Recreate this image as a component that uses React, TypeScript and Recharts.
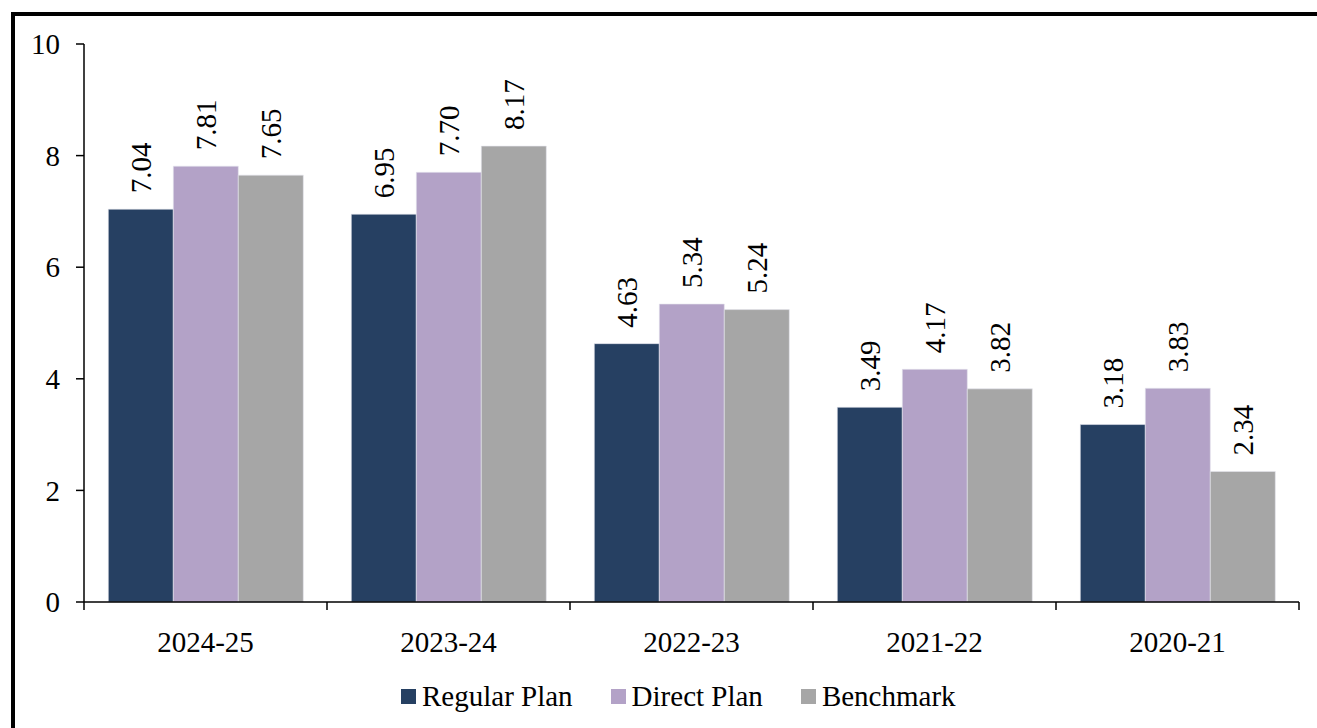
import React from "react";
import { BarChart, Bar, XAxis, YAxis, Legend, LabelList } from "recharts";

const categories = ["2024-25", "2023-24", "2022-23", "2021-22", "2020-21"];
const regularPlan = [7.04, 6.95, 4.63, 3.49, 3.18];
const directPlan = [7.81, 7.7, 5.34, 4.17, 3.83];
const benchmark = [7.65, 8.17, 5.24, 3.82, 2.34];
const yTicks = [0, 2, 4, 6, 8, 10];

const NAVY = "#264062";
const PURPLE = "#B3A2C7";
const GRAY = "#A6A6A6";
const FONT = "Liberation Serif";
const FS = 29;

const series = [
  { key: "regular", name: "Regular Plan", color: NAVY },
  { key: "direct", name: "Direct Plan", color: PURPLE },
  { key: "bench", name: "Benchmark", color: GRAY },
];

const data = categories.map((name, i) => ({
  name,
  regular: regularPlan[i],
  direct: directPlan[i],
  bench: benchmark[i],
}));

// value label turned on its side, sitting above the bar
const SideLabel = (props: any) => {
  const { x, y, width, value } = props;
  const cx = x + width / 2;
  const cy = y - 16;
  return (
    <text
      x={cx}
      y={cy}
      transform={`rotate(-90, ${cx}, ${cy})`}
      textAnchor="start"
      dominantBaseline="central"
      fontSize={FS}
      style={{ fontFamily: FONT }}
      fill="#000"
    >
      {Number(value).toFixed(2)}
    </text>
  );
};

// category label plus tick marks on the band edges
const CategoryTick = (props: any) => {
  const { x, y, payload, index, visibleTicksCount, width } = props;
  const half = payload?.offset || width / visibleTicksCount / 2;
  const last = index === visibleTicksCount - 1;
  return (
    <g>
      <line x1={x - half} y1={y} x2={x - half} y2={y + 8} stroke="#000" strokeWidth={1.5} />
      {last && <line x1={x + half} y1={y} x2={x + half} y2={y + 8} stroke="#000" strokeWidth={1.5} />}
      <text x={x} y={y + 50} textAnchor="middle" fontSize={FS} style={{ fontFamily: FONT }} fill="#000">
        {payload.value}
      </text>
    </g>
  );
};

const LegendBox = () => (
  <div style={{ display: "flex", justifyContent: "flex-start", alignItems: "center", paddingLeft: 401, fontFamily: FONT, fontSize: FS, color: "#000" }}>
    {series.map((s, i) => (
      <div key={s.key} style={{ display: "flex", alignItems: "center", marginLeft: i === 0 ? 0 : 38 }}>
        <span style={{ display: "inline-block", width: 15, height: 15, background: s.color, marginRight: 6 }} />
        <span>{s.name}</span>
      </div>
    ))}
  </div>
);

export default function App() {
  return (
    <div style={{ position: "absolute", left: 0, top: 0, width: 1317, height: 728, background: "#fff", overflow: "hidden", fontFamily: FONT }}>
      <div
        style={{
          position: "absolute",
          left: 11,
          top: 12,
          width: 1330,
          height: 740,
          border: "4px solid #000",
          boxSizing: "border-box",
        }}
      />
      <div style={{ position: "absolute", left: 0, top: 0 }}>
        <BarChart
          width={1317}
          height={728}
          data={data}
          margin={{ top: 44, right: 18, left: 0, bottom: 18 }}
          barCategoryGap="10%"
          barGap={0}
        >
          <YAxis
            domain={[0, 10]}
            ticks={yTicks}
            width={84}
            axisLine={{ stroke: "#000", strokeWidth: 1.5 }}
            tickLine={{ stroke: "#000", strokeWidth: 1.5 }}
            tickSize={8}
            tickMargin={16}
            tick={{ fontSize: FS, fill: "#000", style: { fontFamily: FONT } }}
            interval={0}
          />
          <XAxis
            dataKey="name"
            height={78}
            axisLine={{ stroke: "#000", strokeWidth: 1.5 }}
            tickLine={false}
            tickSize={0}
            tickMargin={0}
            tick={<CategoryTick />}
            interval={0}
          />
          <Legend content={<LegendBox />} verticalAlign="bottom" height={30} />
          {series.map((s) => (
            <Bar
              key={s.key}
              dataKey={s.key}
              name={s.name}
              fill={s.color}
              stroke="#e6e6ee"
              strokeWidth={0.6}
              isAnimationActive={false}
            >
              <LabelList dataKey={s.key} content={<SideLabel />} />
            </Bar>
          ))}
        </BarChart>
      </div>
    </div>
  );
}
